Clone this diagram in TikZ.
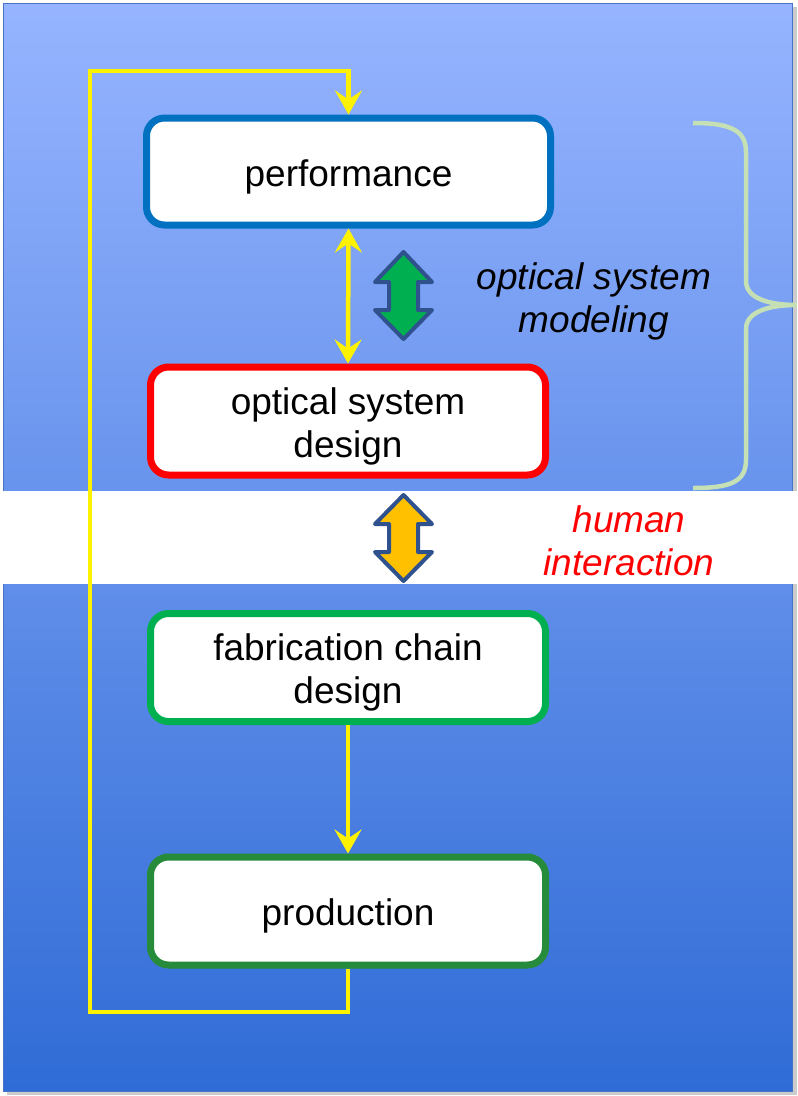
\documentclass[tikz,border=0pt]{standalone}
\usepackage{fontspec}
\setmainfont{Liberation Sans}
\usetikzlibrary{arrows.meta}
\definecolor{bgtop}{RGB}{150,180,255}
\definecolor{bgbot}{RGB}{48,108,214}
\definecolor{perfblue}{RGB}{0,112,192}
\definecolor{fabgreen}{RGB}{0,176,80}
\definecolor{prodgreen}{RGB}{38,139,58}
\definecolor{bracegreen}{RGB}{197,224,180}
\definecolor{arrowoutline}{RGB}{47,82,143}
\definecolor{arroworange}{RGB}{255,192,0}
\definecolor{rectedge}{RGB}{70,114,200}
\tikzset{ytip/.tip={Stealth[length=24pt,width=27pt,inset=9pt]}}
\newcommand{\upstrut}{\rule{0pt}{37pt}}
\begin{document}
\begin{tikzpicture}[x=1pt,y=-1pt,
  box/.style={draw, line width=7pt, fill=white, rounded corners=18pt,
    minimum width=395pt, minimum height=108pt, inner sep=0pt, align=center,
    font=\fontsize{37}{43}\selectfont},
  yline/.style={draw=yellow, line width=4.5pt},
  blockarrow/.style={draw=arrowoutline, line width=4pt, line join=round},
  lbl/.style={font=\itshape\fontsize{37}{43}\selectfont, align=center, inner sep=0pt}
]
\useasboundingbox (0,0) rectangle (798,1096);
% shadow and background
\fill[black!40, opacity=0.5] (7,7) rectangle (797,1095);
\shade[top color=bgtop, bottom color=bgbot] (3,3) rectangle (792,1091);
\draw[rectedge, line width=1pt] (3,3) rectangle (792,1091);
\fill[white] (0,491) rectangle (798,584);

% boxes
\node[box, draw=perfblue, minimum width=404pt, minimum height=107pt] (perf) at (348.5,171.5) {\upstrut performance};
\node[box, draw=red] (opt) at (348,421) {\upstrut optical system\\design};
\node[box, draw=fabgreen] (fab) at (348,667.5) {\upstrut fabrication chain\\design};
\node[box, draw=prodgreen] (prod) at (348,911) {\upstrut production};

% yellow connectors
\coordinate (lb) at (90,1012);
\coordinate (lt) at (90,71);
\draw[yline, -ytip] (prod.south) |- (lb) -- (lt) -| (perf.north);
\draw[yline, ytip-ytip] (perf.south) -- (opt.north);
\draw[yline, -ytip] (fab.south) -- (prod.north);

% block double arrows
\filldraw[blockarrow, fill=fabgreen] (403.5,252) -- (432,282) -- (418,282) -- (418,310) -- (432,310) -- (403.5,339) -- (375,310) -- (389,310) -- (389,282) -- (375,282) -- cycle;
\filldraw[blockarrow, fill=arroworange] (403.5,495) -- (432,524) -- (418,524) -- (418,552) -- (432,552) -- (403.5,581) -- (375,552) -- (389,552) -- (389,524) -- (375,524) -- cycle;

% brace
\draw[bracegreen, line width=4.5pt] (693,123) .. controls (730,123) and (746,130) .. (746,152)
  -- (746,281) .. controls (746,298) and (768,305) .. (797,305)
  .. controls (768,305) and (746,312) .. (746,329)
  -- (746,460) .. controls (746,482) and (730,488) .. (693,488);

% labels
\node[lbl] (osm) at (594,301) {optical system\\modeling};
\node[lbl, text=red] (hi) at (629,541) {human\\interaction};
\end{tikzpicture}
\end{document}
